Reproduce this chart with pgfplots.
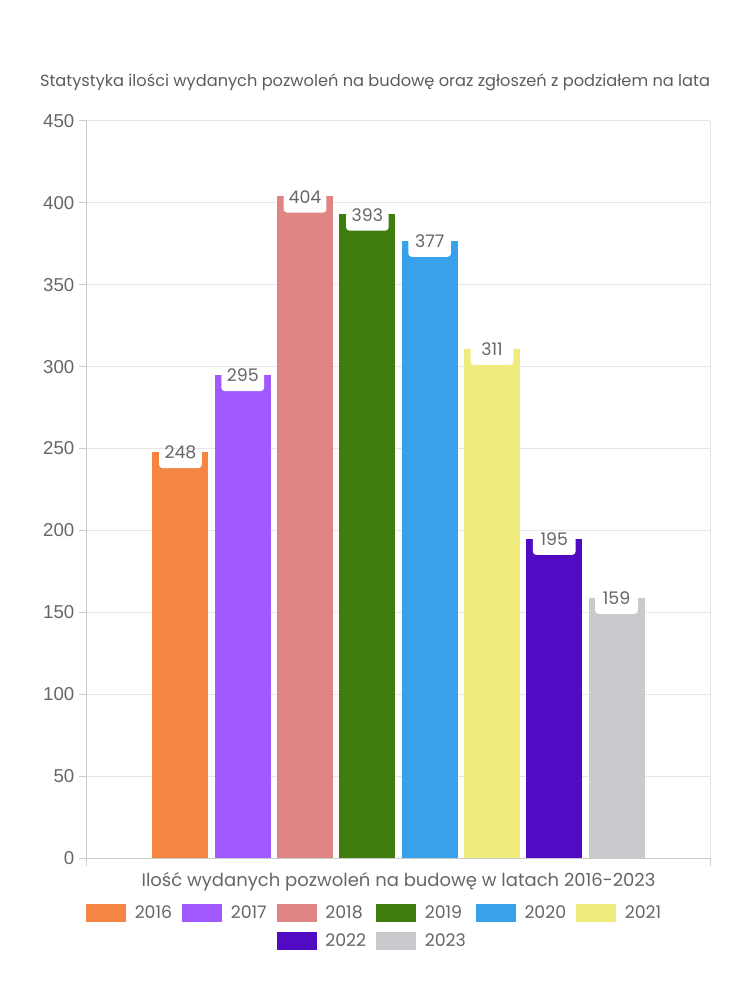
\documentclass[border=0pt]{standalone}
\usepackage{fontspec}
\setmainfont{Poppins}
\newfontfamily\tickfont{Liberation Sans}
\usepackage{pgfplots}
\pgfplotsset{compat=1.18}
\definecolor{c16}{HTML}{F48543}
\definecolor{c17}{HTML}{A05AFF}
\definecolor{c18}{HTML}{E08484}
\definecolor{c19}{HTML}{3E7C0D}
\definecolor{c20}{HTML}{37A2EB}
\definecolor{c21}{HTML}{F0EB7D}
\definecolor{c22}{HTML}{500BC3}
\definecolor{c23}{HTML}{C9CACD}
\definecolor{txt}{HTML}{666666}
\definecolor{gridc}{HTML}{E6E6E6}
\definecolor{axc}{HTML}{CCCCCC}
\begin{document}
\begin{tikzpicture}
\path[use as bounding box] (-65.25pt,-106.5pt) rectangle (497.25pt,643.5pt);
\begin{axis}[
  at={(0,0)}, anchor=south west,
  width=467.25pt, height=552.75pt, scale only axis,
  xmin=-1.5, xmax=8.5, ymin=0, ymax=450,
  ytick={0,50,...,450},
  xtick={-1.5,8.5}, xticklabels={},
  xmajorgrids, ymajorgrids,
  grid style={draw=gridc, line width=0.75pt},
  axis lines*=left,
  axis line style={draw=axc, line width=0.75pt, -},
  tick style={draw=axc, line width=0.75pt},
  tick align=outside,
  major tick length=6pt,
  /pgf/number format/assume math mode=true,
  yticklabel style={font=\tickfont\fontsize{14}{14}\selectfont, text=txt},
  every axis plot/.append style={ybar, bar width=0.9, bar shift=0pt, draw=none},
  legend image code/.code={\fill[#1, draw=none] (0pt,-6.75pt) rectangle (30pt,6.75pt);},
  nodes near coords={\smash{\pgfmathprintnumber{\pgfplotspointmeta}}},
  every node near coord/.append style={anchor=north, yshift=2pt, fill=white,
     rounded corners=2.5pt, minimum width=32pt, minimum height=14pt, inner sep=0pt,
     text=txt, font=\fontsize{13}{13}\selectfont},
  xlabel={Ilość wydanych pozwoleń na budowę w latach 2016-2023},
  every axis x label/.style={at={(axis description cs:0.5,0)}, anchor=base, yshift=-21pt,
     font=\fontsize{13.5}{13.5}\selectfont, text=txt},
  title={Statystyka ilości wydanych pozwoleń na budowę oraz zgłoszeń z podziałem na lata},
  every axis title/.style={at={(axis description cs:0.4623,1)}, anchor=base, yshift=25.5pt,
     font=\fontsize{12.15}{12.15}\selectfont, text=txt!90!black},
  legend columns=6,
  legend style={at={(axis description cs:0.4623,-0.0574)}, anchor=north, draw=none, fill=none,
     font=\fontsize{13}{13}\selectfont, text=txt, row sep=5.5pt,
     /tikz/every odd column/.append style={column sep=4.5pt},
     /tikz/every even column/.append style={column sep=5.5pt}},
  legend cell align=left,
]
\addplot[fill=c16] coordinates {(0,248)}; \addlegendentry{2016}
\addplot[fill=c17] coordinates {(1,295)}; \addlegendentry{2017}
\addplot[fill=c18] coordinates {(2,404)}; \addlegendentry{2018}
\addplot[fill=c19] coordinates {(3,393)}; \addlegendentry{2019}
\addplot[fill=c20] coordinates {(4,377)}; \addlegendentry{2020}
\addplot[fill=c21] coordinates {(5,311)}; \addlegendentry{2021}
\addlegendimage{empty legend}\addlegendentry{}
\addlegendimage{empty legend}\addlegendentry{}
\addplot[fill=c22] coordinates {(6,195)}; \addlegendentry{2022}
\addplot[fill=c23] coordinates {(7,159)}; \addlegendentry{2023}
\end{axis}
\end{tikzpicture}
\end{document}
